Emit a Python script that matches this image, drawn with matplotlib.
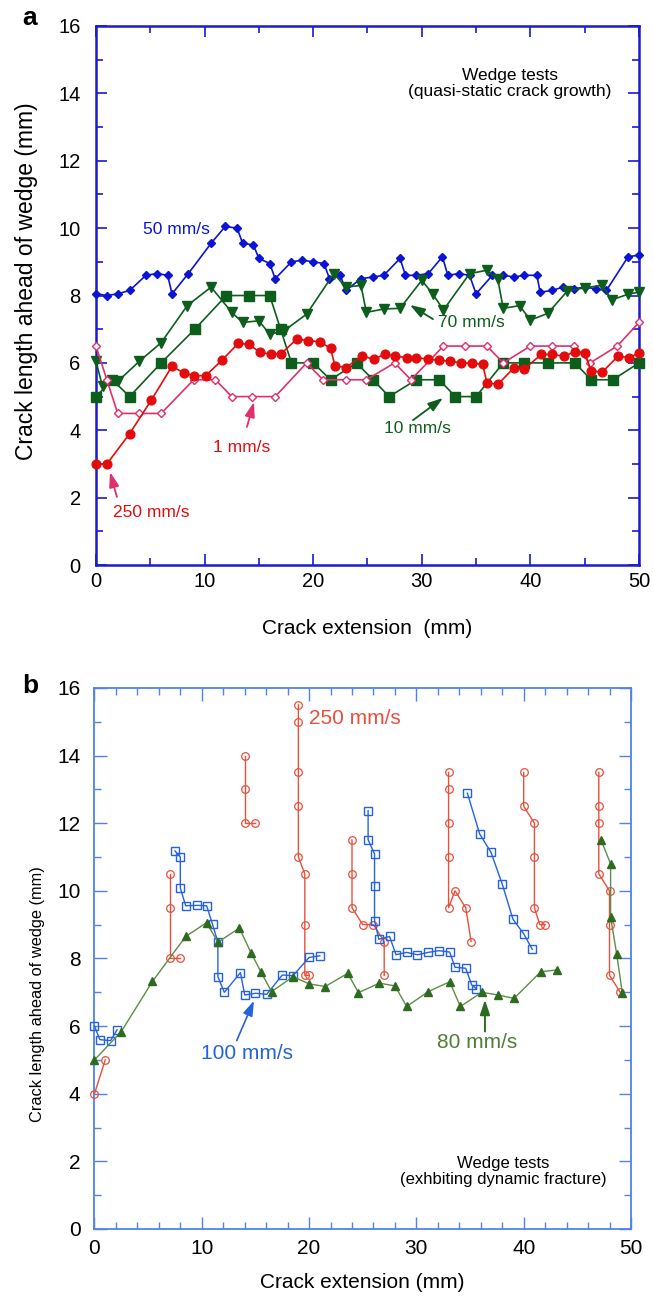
import matplotlib
matplotlib.use("Agg")
import matplotlib.pyplot as plt
from matplotlib.ticker import MultipleLocator

plt.rcParams['font.family'] = ['Liberation Sans', 'DejaVu Sans']

# ---------------- Panel a data ----------------
a50_x = [0, 1, 2, 3.1, 4.6, 5.6, 6.6, 7.0, 8.5, 10.6, 11.9, 13.0, 13.5, 14.5, 15.0, 16.0, 16.5,
         18.0, 19.0, 20.0, 21.0, 21.5, 22.5, 23.0, 24.4, 25.5, 26.5, 28.0, 28.5, 29.5, 30.6, 31.9,
         32.4, 33.4, 34.4, 35.0, 36.5, 37.5, 38.5, 39.4, 40.6, 40.9, 42.0, 43.0, 44.0, 45.0, 46.0,
         47.0, 49.0, 50.0]
a50_y = [8.05, 8.0, 8.05, 8.15, 8.6, 8.65, 8.6, 8.05, 8.65, 9.55, 10.05, 10.0, 9.55, 9.5, 9.1,
         8.95, 8.5, 9.0, 9.05, 9.0, 8.95, 8.5, 8.6, 8.15, 8.5, 8.55, 8.6, 9.1, 8.6, 8.6, 8.65, 9.15,
         8.6, 8.65, 8.6, 8.05, 8.6, 8.6, 8.55, 8.6, 8.6, 8.1, 8.15, 8.25, 8.2, 8.25, 8.2, 8.15, 9.15,
         9.2]

a70_x = [0, 0.6, 2.0, 4.0, 6.0, 8.4, 10.6, 12.5, 13.5, 15.0, 16.0, 17.3, 19.4, 21.9, 23.0, 24.4,
         24.9, 26.5, 28.0, 30.0, 31.0, 32.0, 34.4, 36.0, 37.0, 37.5, 39.0, 40.0, 41.6, 43.4, 45.0,
         46.6, 47.5, 49.0, 50.0]
a70_y = [6.05, 5.3, 5.45, 6.05, 6.6, 7.7, 8.25, 7.5, 7.2, 7.25, 6.85, 6.95, 7.45, 8.65, 8.25,
         8.3, 7.5, 7.6, 7.62, 8.45, 8.05, 7.57, 8.65, 8.75, 8.48, 7.62, 7.7, 7.27, 7.47, 8.13,
         8.23, 8.3, 7.87, 8.04, 8.1]

a10_x = [0, 1.5, 3.1, 6.0, 9.1, 12.0, 14.1, 16.0, 17.0, 18.0, 20.0, 21.6, 24.0, 25.5, 27.0, 29.5,
         31.6, 33.1, 35.0, 37.5, 39.4, 41.6, 44.1, 45.6, 47.6, 50.0]
a10_y = [5.0, 5.5, 5.0, 6.0, 7.0, 8.0, 8.0, 8.0, 7.0, 6.0, 6.0, 5.5, 6.0, 5.5, 5.0, 5.5, 5.5, 5.0,
         5.0, 6.0, 6.0, 6.0, 6.0, 5.5, 5.5, 6.0]

a250_x = [0, 1.0, 3.1, 5.1, 7.0, 8.1, 9.05, 10.1, 11.6, 13.1, 14.1, 15.1, 16.1, 17.0, 18.5, 19.55,
          20.6, 21.6, 22.0, 23.0, 24.5, 25.6, 26.6, 27.5, 28.6, 29.5, 30.6, 31.6, 32.6, 33.6,
          34.6, 35.6, 36.0, 37.0, 38.5, 39.4, 41.0, 42.0, 43.1, 44.1, 45.0, 45.6, 46.6, 48.1,
          49.1, 50.0]
a250_y = [3.0, 3.0, 3.9, 4.9, 5.9, 5.7, 5.62, 5.62, 6.08, 6.58, 6.55, 6.31, 6.26, 6.26, 6.71, 6.66,
          6.63, 6.43, 5.92, 5.86, 6.2, 6.11, 6.26, 6.2, 6.16, 6.16, 6.11, 6.08, 6.05, 6.0, 5.99,
          5.96, 5.41, 5.36, 5.86, 5.81, 6.25, 6.25, 6.2, 6.33, 6.3, 5.77, 5.72, 6.21, 6.15, 6.3]

a1_x = [0, 1.0, 2.0, 4.0, 6.0, 9.0, 11.0, 12.5, 14.4, 16.5, 19.4, 20.9, 23.0, 24.9, 27.5, 29.0,
        32.0, 34.0, 36.0, 37.5, 40.0, 42.0, 44.0, 45.5, 48.0, 50.0]
a1_y = [6.5, 5.5, 4.5, 4.5, 4.5, 5.5, 5.5, 5.0, 5.0, 5.0, 6.0, 5.5, 5.5, 5.5, 6.0, 5.5, 6.5, 6.5,
        6.5, 6.0, 6.5, 6.5, 6.5, 6.0, 6.5, 7.2]

# ---------------- Panel b data (segments) ----------------
b250_x = [[0, 1], [7, 7, 7, 8], [14, 14, 14, 15], [19, 19, 19, 19, 19, 19.6, 19.6, 19.6, 20],
          [24, 24, 24, 25, 26, 27, 27], [33, 33, 33, 33, 33, 33.6, 34.6, 35.1],
          [40, 40, 41, 41, 41, 41.5, 42], [47, 47, 47, 47, 48, 48, 48, 49]]
b250_y = [[4, 5], [10.5, 9.5, 8.0, 8.0], [14, 13, 12, 12], [15.5, 15, 13.5, 12.5, 11, 10.5, 9, 7.5, 7.5],
          [11.5, 10.5, 9.5, 9.0, 9.0, 8.5, 7.5], [13.5, 13, 12, 11, 9.5, 10, 9.5, 8.5],
          [13.5, 12.5, 12, 11, 9.5, 9, 9], [13.5, 12.5, 12, 10.5, 10, 9, 7.5, 7]]

b100_x = [[0, 0.5, 1.5, 2.1],
          [7.5, 8.0, 8.0, 8.5, 9.6, 10.45, 11.0, 11.5, 11.5, 12.1, 13.6, 14.0, 15.0, 16.05, 17.5,
           18.5, 20.0, 21.0],
          [25.5, 25.5, 26.1, 26.1, 26.1, 26.5, 27.5, 28.1, 29.1, 30.1, 31.1, 32.1, 33.1, 33.6,
           34.6, 35.15, 35.6],
          [34.75, 35.9, 36.95, 38.0, 39.0, 40.0, 40.8]]
b100_y = [[6.0, 5.6, 5.57, 5.89],
          [11.18, 11.0, 10.08, 9.56, 9.57, 9.56, 9.01, 8.48, 7.46, 7.0, 7.58, 6.92, 6.97, 6.94, 7.51,
           7.49, 8.03, 8.08],
          [12.37, 11.51, 11.09, 10.13, 9.12, 8.57, 8.65, 8.11, 8.18, 8.11, 8.18, 8.23, 8.19, 7.74,
           7.71, 7.22, 7.1],
          [12.89, 11.68, 11.14, 10.2, 9.16, 8.73, 8.27]]

b80_x = [[0, 2.5, 5.4, 8.5, 10.45, 11.5, 13.5, 14.6, 15.5, 16.5, 18.5, 20.0, 21.5, 23.6, 24.6,
          26.55, 28.0, 29.1, 31.1, 33.1, 34.1, 36.1, 37.6, 39.1, 41.6, 43.1],
         [47.2, 48.1, 48.1, 48.66, 49.2]]
b80_y = [[5.0, 5.84, 7.32, 8.65, 9.06, 8.48, 8.9, 8.16, 7.61, 7.02, 7.46, 7.25, 7.17, 7.56, 6.99,
          7.27, 7.19, 6.58, 7.02, 7.31, 6.58, 7.0, 6.92, 6.82, 7.61, 7.66],
         [11.51, 10.8, 9.22, 8.14, 6.97]]


def arrow(ax, tail, head, color, lw=1.3):
    ax.annotate('', xy=head, xytext=tail,
                arrowprops=dict(arrowstyle='-|>,head_length=0.9,head_width=0.3', color=color,
                                lw=lw, shrinkA=0, shrinkB=0, mutation_scale=10))


# ---------------- Figure ----------------
fig = plt.figure(figsize=(6.53, 12.99), dpi=100)

# ===== Panel a =====
axa = fig.add_axes([0.147, 0.565, 0.8315, 0.415])
spine_a = '#1a1ad0'
c_blue = '#0a14d2'
c_green = '#0d5e1c'
c_red = '#e30b0b'
c_pink = '#e0306a'

axa.plot(a50_x, a50_y, '-D', color=c_blue, lw=1.2, ms=4.5, clip_on=False, zorder=3)
axa.plot(a70_x, a70_y, '-v', color=c_green, lw=1.2, ms=6.5, clip_on=False, zorder=3)
axa.plot(a10_x, a10_y, '-s', color=c_green, lw=1.2, ms=6.5, clip_on=False, zorder=3)
axa.plot(a1_x, a1_y, '-D', color=c_pink, lw=1.2, ms=4, mfc='white', mew=1.0, clip_on=False, zorder=3)
axa.plot(a250_x, a250_y, '-o', color=c_red, lw=1.2, ms=6.3, clip_on=False, zorder=4)

axa.set_xlim(0, 50)
axa.set_ylim(0, 16)
axa.xaxis.set_major_locator(MultipleLocator(10))
axa.xaxis.set_minor_locator(MultipleLocator(5))
axa.yaxis.set_major_locator(MultipleLocator(2))
axa.yaxis.set_minor_locator(MultipleLocator(1))
axa.tick_params(which='both', direction='in', top=True, right=True, color=spine_a, width=1.2,
                labelsize=14.5)
axa.tick_params(axis='x', pad=5)
axa.tick_params(axis='y', pad=11)
axa.tick_params(which='major', length=8)
axa.tick_params(which='minor', length=5)
for s in axa.spines.values():
    s.set_color(spine_a)
    s.set_linewidth(1.8)
axa.set_xlabel('Crack extension  (mm)', fontsize=15)
axa.set_ylabel('Crack length ahead of wedge (mm)', fontsize=16.5)
axa.xaxis.set_label_coords(0.5, -0.100)
axa.yaxis.set_label_coords(-0.107, 0.527)

axa.text(38.1, 14.3, 'Wedge tests\n(quasi-static crack growth)', ha='center', va='center',
         fontsize=12.5, linespacing=1.05)
axa.text(7.4, 9.95, '50 mm/s', color=c_blue, fontsize=12.5, ha='center', va='center')
axa.text(34.6, 7.2, '70 mm/s', color=c_green, fontsize=12.5, ha='center', va='center')
arrow(axa, (31.03, 7.30), (28.91, 7.72), c_green)
axa.text(29.6, 4.05, '10 mm/s', color=c_green, fontsize=12.5, ha='center', va='center')
arrow(axa, (29.19, 4.30), (31.95, 4.96), c_green)
axa.text(13.45, 3.5, '1 mm/s', color=c_red, fontsize=12.5, ha='center', va='center')
arrow(axa, (13.9, 4.10), (14.55, 4.84), c_pink)
axa.text(5.1, 1.55, '250 mm/s', color=c_red, fontsize=12.5, ha='center', va='center')
arrow(axa, (1.93, 2.02), (1.29, 2.76), c_pink)
fig.text(22 / 653, 1 - 18 / 1299, 'a', fontsize=19, fontweight='bold', ha='left', va='center')

# ===== Panel b =====
axb = fig.add_axes([0.1447, 0.0539, 0.8216, 0.4165])
spine_b = '#4f82ee'
cb_red = '#e8503c'
cb_blue = '#2462e0'
cb_green_line = '#5a8f46'
cb_green_mk = '#2f6b1f'

for xs, ys in zip(b250_x, b250_y):
    axb.plot(xs, ys, '-o', color=cb_red, lw=1.0, ms=5.5, mfc='none', mew=0.9, clip_on=False, zorder=3)
for xs, ys in zip(b100_x, b100_y):
    axb.plot(xs, ys, '-s', color=cb_blue, lw=1.0, ms=5.5, mfc='none', mew=1.0, clip_on=False, zorder=3)
for xs, ys in zip(b80_x, b80_y):
    axb.plot(xs, ys, '-^', color=cb_green_line, lw=1.0, ms=6, mfc=cb_green_mk, mec=cb_green_mk,
             clip_on=False, zorder=3)

axb.set_xlim(0, 50)
axb.set_ylim(0, 16)
axb.xaxis.set_major_locator(MultipleLocator(10))
axb.xaxis.set_minor_locator(MultipleLocator(2))
axb.yaxis.set_major_locator(MultipleLocator(2))
axb.yaxis.set_minor_locator(MultipleLocator(1))
axb.tick_params(which='both', direction='in', top=True, right=True, color=spine_b, width=1.0,
                labelsize=15)
axb.tick_params(axis='x', pad=7)
axb.tick_params(axis='y', pad=10)
axb.tick_params(which='major', length=9)
axb.tick_params(which='minor', length=5)
for s in axb.spines.values():
    s.set_color(spine_b)
    s.set_linewidth(1.3)
axb.set_xlabel('Crack extension (mm)', fontsize=15)
axb.set_ylabel('Crack length ahead of wedge (mm)', fontsize=11.8)
axb.xaxis.set_label_coords(0.5, -0.081)
axb.yaxis.set_label_coords(-0.092, 0.434)

axb.text(38.1, 1.7, 'Wedge tests\n(exhbiting dynamic fracture)', ha='center', va='center',
         fontsize=12, linespacing=1.05)
axb.text(20.0, 15.1, '250 mm/s', color=cb_red, fontsize=15, ha='left', va='center')
axb.text(14.2, 5.2, '100 mm/s', color=cb_blue, fontsize=15, ha='center', va='center')
arrow(axb, (13.25, 5.57), (14.86, 6.75), cb_blue, lw=1.2)
axb.text(35.7, 5.52, '80 mm/s', color='#4e7f36', fontsize=15, ha='center', va='center')
arrow(axb, (36.39, 5.84), (36.39, 6.78), cb_green_mk, lw=1.4)
fig.text(22 / 653, 1 - 686 / 1299, 'b', fontsize=19, fontweight='bold', ha='left', va='center')

fig.savefig('out.png', dpi=100)
